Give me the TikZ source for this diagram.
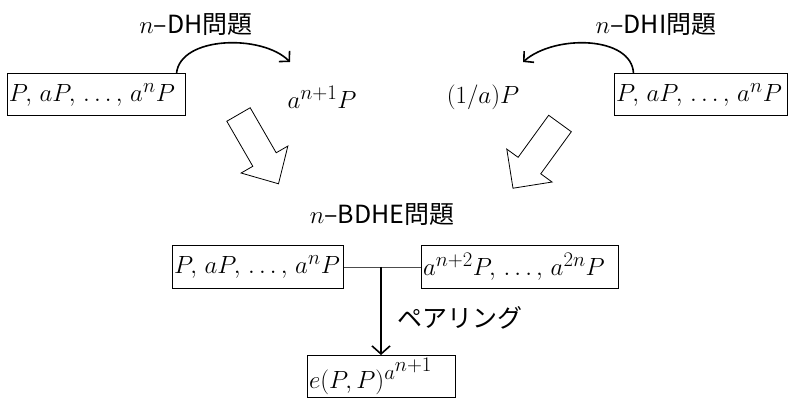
\documentclass[tikz,border=0pt]{standalone}
\usepackage{fontspec}
\newfontfamily\jp{Noto Sans CJK JP}
\usetikzlibrary{arrows.meta}
\newcommand{\cs}{,\mskip2.5mu}
\begin{document}
\begin{tikzpicture}[x=1pt,y=-1pt,
  box/.style={draw,line width=1pt,inner sep=2pt,font=\fontsize{28}{30}\selectfont,minimum height=42pt,align=left,anchor=center},
  mtxt/.style={inner sep=0pt,font=\fontsize{28}{30}\selectfont},
  lbl/.style={inner sep=0pt,font=\fontsize{25}{27}\selectfont},
  fat/.style={draw,line width=0.8pt,fill=white},
  curve/.style={line width=1.6pt,-{Straight Barb[length=7pt,width=15pt,line width=1.6pt]}}]
\useasboundingbox (0,0) rectangle (790,398);

% top left
\node[box,text width=174pt] (boxTL) at (96,95) {$P\cs aP\cs\ldots\cs a^nP$};
\node[mtxt] (aN1) at (322,97) {$a^{n+1}P$};
\node[lbl] (lDH) at (196,25) {$n${\jp –DH問題}};
\coordinate (t1) at (290,62);
\draw[curve] ([xshift=-9pt]boxTL.north east) .. controls (180,36) and (262,34) .. (t1);

% top right
\node[box,text width=169pt] (boxTR) at (700.5,95) {$P\cs aP\cs\ldots\cs a^nP$};
\node[mtxt] (inv) at (483,97) {$(1/a)P$};
\node[lbl] (lDHI) at (656,25) {$n${\jp –DHI問題}};
\coordinate (t2) at (523,62);
\draw[curve] ([xshift=20pt]boxTR.north west) .. controls (632,36) and (555,34) .. (t2);

% hollow arrows
\begin{scope}[shift={(238.5,114.5)},rotate=-60]
  \draw[fat] (0,13.5) -- (52,13.5) -- (52,27) -- (80,0) -- (52,-27) -- (52,-13.5) -- (0,-13.5) -- cycle;
\end{scope}
\begin{scope}[shift={(560,123.5)},rotate=-126]
  \draw[fat] (0,14) -- (52,14) -- (52,28) -- (80,0) -- (52,-28) -- (52,-14) -- (0,-14) -- cycle;
\end{scope}

% bottom
\node[lbl] (lBDHE) at (382,215) {$n${\jp –BDHE問題}};
\node[box,text width=167pt] (boxBL) at (257.5,267) {$P\cs aP\cs\ldots\cs a^nP$};
\node[box,text width=193pt] (boxBR) at (519.5,267) {$a^{n+2}P\cs\ldots\cs a^{2n}P$};
\node[box,text width=144pt] (boxB) at (381,376.5) {$e(P,P)^{a^{\scriptstyle n+1}}$};
\node[lbl,anchor=west] (pair) at (397,318) {\jp ペアリング};
\draw[line width=0.8pt,black!70] (boxBL.east) -- (boxBR.west);
\coordinate (j) at (381,267);
\draw[line width=1.6pt,-{Straight Barb[length=8pt,width=18pt,line width=1.6pt]}] (j) -- (boxB.north);
\end{tikzpicture}
\end{document}
